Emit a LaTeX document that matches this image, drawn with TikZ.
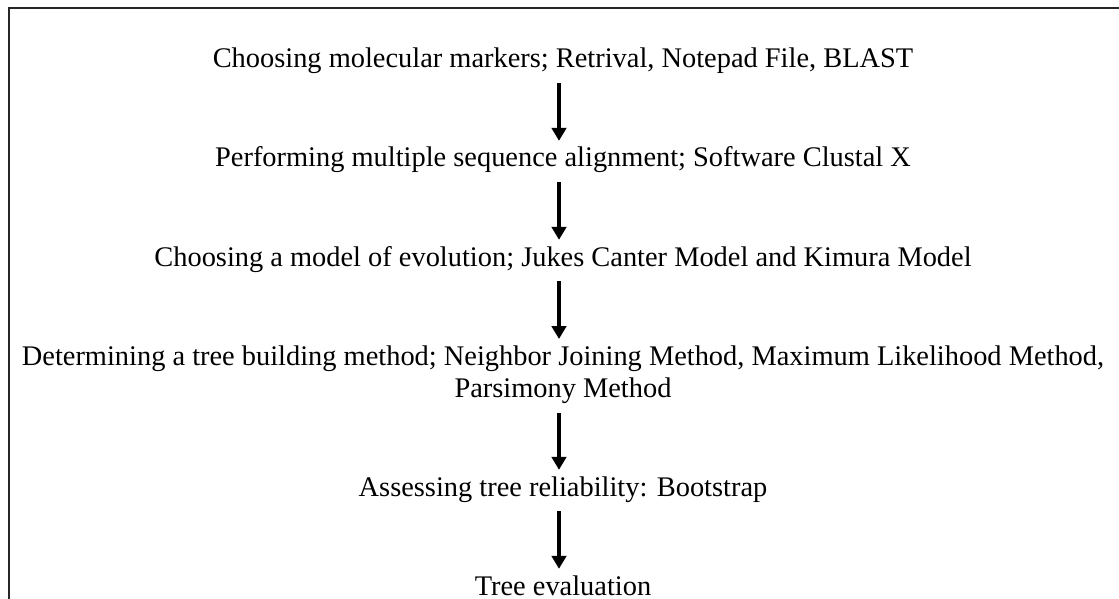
\documentclass[tikz,border=0pt]{standalone}
\usepackage{fontspec}
\setmainfont{Liberation Serif}
\usetikzlibrary{arrows.meta}
\begin{document}
\begin{tikzpicture}[x=1pt,y=-1pt,
  stage/.style={inner sep=0pt, font=\fontsize{28.4}{32}\selectfont},
  oneline/.style={stage, text height=19pt, text depth=6pt, anchor=base},
  flow/.style={line width=4.4pt, -{Triangle[width=14.5pt,length=13pt]},
               shorten <=9pt, shorten >=7pt}]
  \useasboundingbox (0,0) rectangle (1119,599);
  % frame (open at the right and bottom)
  \draw[line width=2pt, black!85] (8.5,599) -- (8.5,8.5) -- (1119,8.5);

  \node[oneline] (s1) at (563,68) {Choosing molecular markers; Retrival, Notepad File, BLAST};
  \node[oneline] (s2) at (563,167) {Performing multiple sequence alignment; Software Clustal X};
  \node[oneline] (s3) at (563,266) {Choosing a model of evolution; Jukes Canter Model and Kimura Model};
  \node[stage, align=center, anchor=north] (s4) at (563,346)
    {Determining a tree building method; Neighbor Joining Method, Maximum Likelihood Method,\\
     Parsimony Method};
  \node[oneline] (s5) at (563,496) {Assessing tree reliability: Bootstrap};
  \node[oneline] (s6) at (563,595) {Tree evaluation};

  % arrows run slightly left of the text centre line
  \draw[flow] ([xshift=-4pt]s1.south) -- ([xshift=-4pt]s2.north);
  \draw[flow] ([xshift=-4pt]s2.south) -- ([xshift=-4pt]s3.north);
  \draw[flow] ([xshift=-4pt]s3.south) -- ([xshift=-4pt]s4.north);
  \draw[flow] ([xshift=-4pt]s4.south) -- ([xshift=-4pt]s5.north);
  \draw[flow] ([xshift=-4pt]s5.south) -- ([xshift=-4pt]s6.north);
\end{tikzpicture}
\end{document}
